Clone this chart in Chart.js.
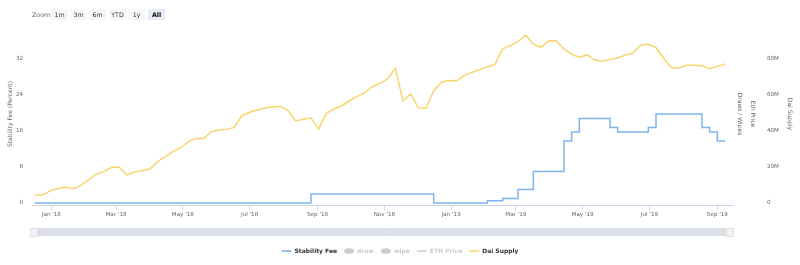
<!DOCTYPE html>
<html>
<head>
<meta charset="utf-8">
<script src="https://cdn.jsdelivr.net/npm/chart.js@4.4.1/dist/chart.umd.min.js"></script>
<style>
  html, body { margin: 0; padding: 0; background: #fff; }
  #wrap { position: relative; width: 800px; height: 265px; font-family: "DejaVu Sans", sans-serif; }
  #chart { position: absolute; left: 0; top: 0; }
  .zlabel { position: absolute; left: 32px; top: 11px; font-size: 6.3px; color: #666; }
  .zbtn { position: absolute; top: 9px; width: 17px; height: 11px; line-height: 11px; text-align: center;
          font-size: 6.3px; color: #333; background: #f7f7f7; border-radius: 1px; }
  .zbtn.on { background: #e6ebf5; font-weight: bold; color: #000; }
  #scroll { position: absolute; left: 30px; top: 228px; width: 704px; height: 8px; }
  #scroll .btn { position: absolute; top: 0; width: 6px; height: 7px; background: #f2f2f2; border: 0.5px solid #e0e0e0; }
  #scroll .thumb { position: absolute; left: 7px; right: 7px; top: 0; height: 8px; background: #d9dee8; }
  #scroll .grip { position: absolute; left: 348px; top: 2px; width: 4px; height: 4px;
                  border-left: 1px solid #eef0f4; border-right: 1px solid #eef0f4; }
</style>
</head>
<body>
<div id="wrap">
  <canvas id="chart" width="800" height="265"></canvas>
  <div class="zlabel">Zoom</div>
  <div class="zbtn" style="left:51px">1m</div>
  <div class="zbtn" style="left:70px">3m</div>
  <div class="zbtn" style="left:89px">6m</div>
  <div class="zbtn" style="left:109px">YTD</div>
  <div class="zbtn" style="left:128px">1y</div>
  <div class="zbtn on" style="left:148px">All</div>
  <div id="scroll">
    <div class="btn" style="left:0"></div>
    <div class="thumb"><div class="grip"></div></div>
    <div class="btn" style="right:0"></div>
  </div>
</div>
<script>
// weekly Dai supply (millions), first week starting 2017-12-17
const weekStart = '2017-12-17';
const daiSupply = [
  4.4, 4.4, 6.8, 8.1, 8.7, 8.0, 9.8, 12.8, 16.1, 17.4,
  19.8, 19.8, 15.6, 17.2, 18.0, 18.9, 23.0, 25.7, 28.5, 30.7,
  34.1, 35.9, 35.7, 39.6, 40.6, 40.9, 42.0, 48.5, 50.4, 51.7,
  52.8, 53.3, 53.7, 51.3, 45.6, 46.5, 47.2, 41.1, 49.8, 52.2,
  53.9, 56.8, 59.1, 61.3, 64.6, 66.5, 68.9, 74.8, 56.7, 60.6,
  52.9, 52.6, 62.4, 67.1, 68.1, 67.9, 70.9, 72.6, 74.1, 75.6,
  77.0, 85.7, 87.4, 89.6, 93.2, 88.3, 86.5, 90.2, 90.0, 85.6,
  82.6, 80.9, 82.4, 79.4, 78.7, 79.8, 80.6, 82.2, 83.3, 87.6,
  88.2, 86.3, 80.4, 75.0, 75.2, 76.5, 76.5, 76.3, 74.6, 75.9,
  77.2
];

// stability fee changes (percent)
const feeDates = ['2017-12-17', '2018-08-26', '2018-12-16', '2019-02-03', '2019-02-17', '2019-03-03',
  '2019-03-17', '2019-04-14', '2019-04-21', '2019-04-28', '2019-05-26', '2019-06-02', '2019-06-30',
  '2019-07-07', '2019-08-18', '2019-08-25', '2019-09-01', '2019-09-08'];
const feeValues = [0, 2, 0, 0.5, 1, 3, 7, 13.8, 15.8, 18.8, 16.8, 15.8, 16.8, 19.8, 16.8, 15.8, 13.8, 13.8];

const xTickDates = ['2018-01-01', '2018-03-01', '2018-05-01', '2018-07-01', '2018-09-01', '2018-11-01',
  '2019-01-01', '2019-03-01', '2019-05-01', '2019-07-01', '2019-09-01'];
const xTickLabels = ["Jan '18", "Mar '18", "May '18", "Jul '18", "Sep '18", "Nov '18",
  "Jan '19", "Mar '19", "May '19", "Jul '19", "Sep '19"];
const feeTicks = [0, 8, 16, 24, 32];
const supplyTicks = [0, 20, 40, 60, 80];

const legendNames = ['Stability Fee', 'draw', 'wipe', 'ETH Price', 'Dai Supply'];

const BLUE = '#7cb5ec';
const YELLOW = '#f8d56e';
const GREY = '#cccccc';
const PLOT_BOTTOM = 205;
const PAD_BOTTOM = 1;

const day = s => (Date.parse(s) - Date.parse('2018-01-01')) / 864e5;
const xTickDays = xTickDates.map(day);

const supplyPoints = daiSupply.map((v, i) => ({ x: day(weekStart) + 7 * i, y: v }));
const feePoints = feeValues.map((v, i) => ({ x: day(feeDates[i]), y: v }));

Chart.defaults.font.family = '"DejaVu Sans", sans-serif';
Chart.defaults.color = '#666';

const ctx = document.getElementById('chart').getContext('2d');

const hideAxisLines = { grid: { display: false, drawTicks: false }, border: { display: false } };

new Chart(ctx, {
  type: 'line',
  data: {
    datasets: [
      { label: 'Stability Fee', data: feePoints, yAxisID: 'y', borderColor: BLUE, borderWidth: 1.5,
        stepped: true, pointRadius: 0, fill: false },
      { label: 'draw', data: [], yAxisID: 'yDraws', hidden: true },
      { label: 'wipe', data: [], yAxisID: 'yDraws', hidden: true },
      { label: 'ETH Price', data: [], yAxisID: 'yEth', hidden: true },
      { label: 'Dai Supply', data: supplyPoints, yAxisID: 'y2', borderColor: YELLOW, borderWidth: 1.5,
        pointRadius: 0, tension: 0, fill: false }
    ]
  },
  options: {
    responsive: false,
    animation: false,
    layout: { padding: { top: 23, left: 0, right: 0, bottom: PAD_BOTTOM } },
    plugins: {
      tooltip: { enabled: false },
      legend: {
        position: 'bottom',
        labels: {
          usePointStyle: true,
          pointStyleWidth: 10,
          boxHeight: 4,
          padding: 7,
          font: { size: 6, weight: 'bold' },
          generateLabels: () => legendNames.map((name, i) => {
            const active = i === 0 || i === 4;
            const col = i === 0 ? BLUE : i === 4 ? YELLOW : GREY;
            const dot = i === 1 || i === 2;
            return {
              text: name,
              datasetIndex: i,
              pointStyle: dot ? 'circle' : 'line',
              fillStyle: col,
              strokeStyle: col,
              lineWidth: dot ? 0 : 1.5,
              fontColor: active ? '#333' : GREY,
              hidden: false
            };
          })
        }
      }
    },
    scales: {
      x: {
        type: 'linear',
        min: -17.7,
        max: 622.3,
        afterBuildTicks: s => { s.ticks = xTickDays.map(v => ({ value: v })); },
        afterFit: s => { s.height = s.chart.height - PLOT_BOTTOM - s.chart.legend.height - PAD_BOTTOM; },
        grid: { display: true, drawOnChartArea: false, drawTicks: true, tickLength: 5, color: '#ccd6eb' },
        border: { display: true, color: '#ccd6eb' },
        ticks: { autoSkip: false, maxRotation: 0, padding: 1, color: '#666', font: { size: 5.6 },
                 callback: (v, i) => xTickLabels[i] }
      },
      y: {
        position: 'left',
        min: -0.444,
        max: 40,
        afterBuildTicks: s => { s.ticks = feeTicks.map(v => ({ value: v })); },
        afterFit: s => { s.width = 32; },
        ...hideAxisLines,
        ticks: { padding: 9, color: '#666', font: { size: 5.6 } },
        title: { display: true, text: 'Stability Fee (Percent)', color: '#666', font: { size: 6 },
                 padding: { top: 6.4, bottom: 0 } }
      },
      yDraws: {
        position: 'right',
        afterFit: s => { s.width = 13; },
        ...hideAxisLines,
        ticks: { display: false },
        title: { display: true, text: 'Draws / Wipes', color: '#666', font: { size: 6 },
                 padding: { top: 2.4, bottom: 0 } }
      },
      yEth: {
        position: 'right',
        afterFit: s => { s.width = 14; },
        ...hideAxisLines,
        ticks: { display: false },
        title: { display: true, text: 'Eth Price', color: '#666', font: { size: 6 },
                 padding: { top: 3.4, bottom: 0 } }
      },
      y2: {
        position: 'right',
        min: -1.111,
        max: 100,
        afterBuildTicks: s => { s.ticks = supplyTicks.map(v => ({ value: v })); },
        afterFit: s => { s.width = 40; },
        ...hideAxisLines,
        ticks: { padding: 7, color: '#666', font: { size: 5.6 }, callback: v => v === 0 ? '0' : v + 'M' },
        title: { display: true, text: 'Dai Supply', color: '#666', font: { size: 6 },
                 padding: { top: 6.4, bottom: 0 } }
      }
    }
  }
});
</script>
</body>
</html>
